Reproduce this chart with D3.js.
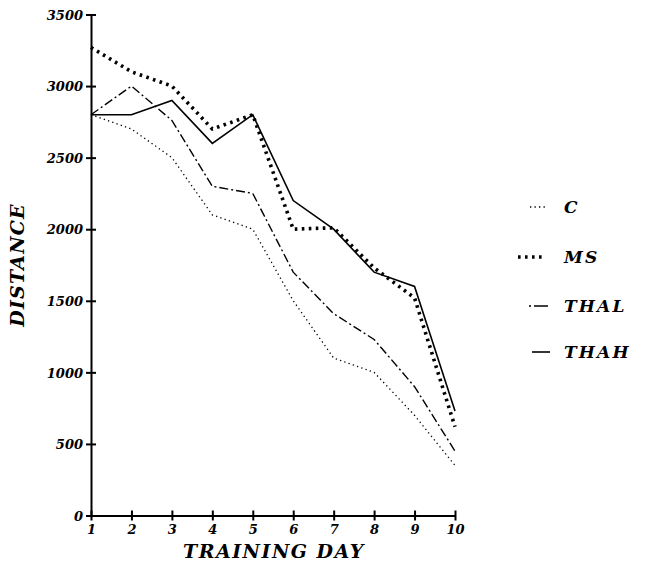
<!DOCTYPE html>
<meta charset="utf-8">
<style>
body { margin: 0; background: #fff; }
svg text { font-family: "DejaVu Serif", serif; font-weight: bold; font-style: italic; fill: #000; }
.tick text { font-size: 13px; }
.axis path, .axis line { stroke: #000; stroke-width: 2; }
.series { fill: none; stroke: #000; }
</style>
<body>
<script src="https://cdn.jsdelivr.net/npm/d3@7"></script>
<script>

var days = [1, 2, 3, 4, 5, 6, 7, 8, 9, 10];
var yTicks = [0, 500, 1000, 1500, 2000, 2500, 3000, 3500];

var groups = ["C", "MS", "THAL", "THAH"];
var C    = [2800, 2700, 2500, 2100, 2000, 1500, 1100, 1000, 700, 350];
var MS   = [3270, 3100, 3000, 2700, 2800, 2000, 2010, 1730, 1520, 620];
var THAL = [2800, 3000, 2760, 2300, 2250, 1700, 1410, 1230, 900, 450];
var THAH = [2800, 2800, 2900, 2600, 2800, 2200, 2000, 1700, 1600, 730];

var styles = {
  C:    { width: 1.3, dash: "1.3,3.2" },
  MS:   { width: 3.6, dash: "2.6,4.4" },
  THAL: { width: 1.4, dash: "9,3,2,3" },
  THAH: { width: 1.6, dash: null }
};
var values = { C: C, MS: MS, THAL: THAL, THAH: THAH };

var svg = d3.select("body").append("svg")
    .attr("width", 645)
    .attr("height", 567);

var x = d3.scaleLinear().domain([1, 10]).range([91, 455]);
var y = d3.scaleLinear().domain([0, 3500]).range([515.5, 14.5]);

// y axis
svg.append("g")
    .attr("class", "axis")
    .attr("transform", "translate(91,0)")
    .call(d3.axisLeft(y).tickValues(yTicks).tickFormat(d3.format("d")).tickSizeOuter(0))
    .call(function(g) {
      g.selectAll(".tick line").attr("x1", -5).attr("x2", 5);
      g.selectAll(".tick text").attr("x", -8).attr("dy", "0.36em");
    });

// x axis
svg.append("g")
    .attr("class", "axis")
    .attr("transform", "translate(0,515.5)")
    .call(d3.axisBottom(x).tickValues(days).tickFormat(d3.format("d")).tickSizeOuter(0))
    .call(function(g) {
      g.selectAll(".tick line").attr("y1", -5).attr("y2", 5);
      g.selectAll(".tick text").attr("y", 9);
    });

svg.selectAll(".axis").attr("font-family", null).attr("font-size", null);

var line = d3.line()
    .x(function(d, i) { return x(days[i]); })
    .y(function(d) { return y(d); });

groups.forEach(function(g) {
  var s = styles[g];
  svg.append("path")
      .attr("class", "series")
      .attr("d", line(values[g]))
      .attr("stroke-width", s.width)
      .attr("stroke-dasharray", s.dash);
});

// legend
var legY = [207, 257, 306, 352];
var legX = { C: [530, 545], MS: [518, 542], THAL: [529, 548], THAH: [532, 550] };
groups.forEach(function(g, i) {
  var s = styles[g];
  svg.append("line")
      .attr("x1", legX[g][0]).attr("x2", legX[g][1])
      .attr("y1", legY[i]).attr("y2", legY[i])
      .attr("stroke", "#000")
      .attr("stroke-width", s.width)
      .attr("stroke-dasharray", g == "THAL" ? "2,3,14" : s.dash);
  svg.append("text")
      .attr("x", 564)
      .attr("y", legY[i] + 6)
      .attr("font-size", 17)
      .attr("letter-spacing", 2.2)
      .text(g);
});

// axis titles
svg.append("text")
    .attr("x", 274)
    .attr("y", 558)
    .attr("text-anchor", "middle")
    .attr("font-size", 19)
    .attr("letter-spacing", 1.5)
    .text("TRAINING DAY");

svg.append("text")
    .attr("transform", "translate(24,265) rotate(-90)")
    .attr("text-anchor", "middle")
    .attr("font-size", 19)
    .attr("letter-spacing", 1.2)
    .text("DISTANCE");

</script>
